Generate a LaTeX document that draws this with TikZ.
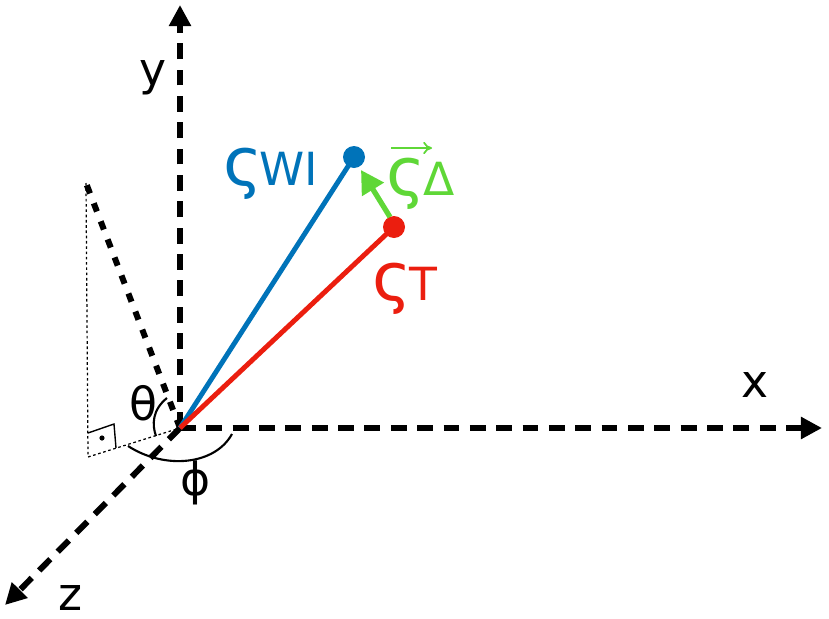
\documentclass[tikz,border=0pt]{standalone}
\usepackage{fontspec}
\setmainfont{DejaVu Sans}
\usetikzlibrary{arrows.meta}
\definecolor{wiblue}{RGB}{0,115,185}
\definecolor{tred}{RGB}{235,30,15}
\definecolor{dgreen}{RGB}{95,215,55}
\begin{document}
\begin{tikzpicture}[x=0.02cm,y=-0.02cm]
\tikzstyle{axis}=[line width=3.4pt,dash pattern=on 9pt off 6pt,-{Triangle[length=12pt,width=12pt]}]
\tikzstyle{vec}=[line width=2.8pt]
\tikzstyle{lbl}=[font=\fontsize{26}{30}\selectfont,inner sep=0pt]
\useasboundingbox (0,0) rectangle (829,619);
% ========= axes
\coordinate (O) at (180,428);
\coordinate (ytip) at (180,5);
\coordinate (xtip) at (822,428);
\coordinate (ztip) at (5,605);
\draw [axis] (O) -- (ytip);
\draw [axis] (O) -- (xtip);
\draw [axis] (O) -- (ztip);
\node [lbl] (ylab) at (153,78) {y};
\node [lbl] (xlab) at (755,385) {x};
\node [lbl] (zlab) at (70,598) {z};
% ====== projection
\coordinate (P) at (86,183);
\coordinate (Q) at (88,457);
\draw [line width=3.4pt,dash pattern=on 5pt off 6pt] (O) -- (P);
\draw [line width=0.7pt,dash pattern=on 1.5pt off 1.5pt] (P) -- (Q) -- (O);
\draw [line width=0.8pt] (88,433) -- (114,424) -- (116,448);
\fill (102,438) circle (2.6);
% ====== angles
\draw [line width=1.2pt] (167,398) .. controls (152,410) and (152,425) .. (156,436);
\draw [line width=1.2pt] (128,446) .. controls (165,470) and (215,465) .. (232,434);
\node [lbl] (theta) at (143,403) {θ};
\node [lbl] (phi) at (196,483) {ϕ};
% ====== vectors
\coordinate (WI) at (354,157);
\coordinate (T) at (394,227);
\draw [vec,wiblue] (O) -- (WI);
\fill [wiblue] (WI) circle (11);
\draw [vec,tred] (O) -- (T);
\fill [tred] (T) circle (11);
\draw [line width=3pt,dgreen,-{Triangle[length=13pt,width=14pt]}] (T) ++(-4,-10) -- (361,170);
%% ===== labels
\node [wiblue,anchor=base east,inner sep=0pt] (wilab) at (318,185) {\fontsize{38}{40}\selectfont ς\kern-2pt\fontsize{26}{30}\selectfont WI};
\node [dgreen,anchor=base west,inner sep=0pt] (dlab) at (386,195) {\fontsize{38}{40}\selectfont ς\kern-1pt\fontsize{26}{30}\selectfont Δ};
\draw [dgreen,line width=1pt,-{To[length=5pt,width=7pt]}] (391,148) -- (432,148);
\node [tred,anchor=base west,inner sep=0pt] (tlab) at (372,300) {\fontsize{38}{40}\selectfont ς\kern-1pt\fontsize{26}{30}\selectfont T};
\end{tikzpicture}
\end{document}
